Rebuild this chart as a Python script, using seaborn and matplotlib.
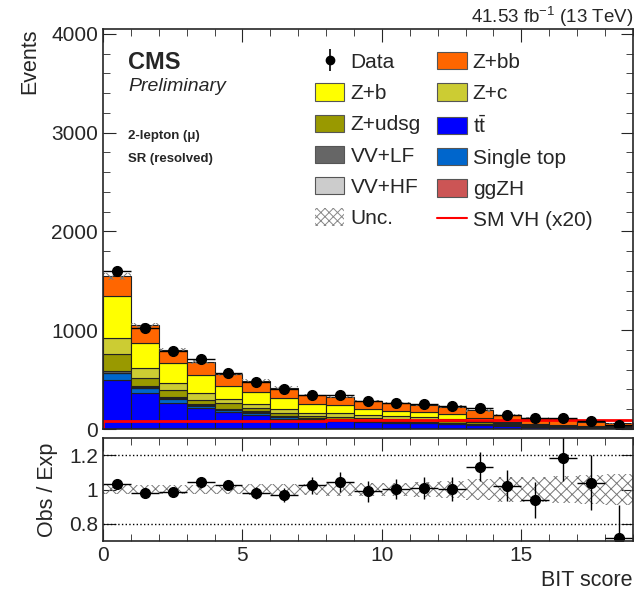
import numpy as np
import pandas as pd
import matplotlib
matplotlib.use("Agg")
import matplotlib.pyplot as plt
from matplotlib.patches import Patch
from matplotlib.lines import Line2D
from matplotlib.ticker import MultipleLocator
import seaborn as sns

# ---- data ----
edges = list(range(0, 20))          # 19 bins of BIT score, 0..19
centers = np.array(edges[:-1]) + 0.5

tt         = [500, 365, 268, 208, 168, 145, 105, 91, 80, 70, 63, 57, 48, 39, 31, 24, 21, 15, 12]
single_top = [62, 46, 35, 28, 24, 20, 15, 13, 11, 10, 9, 8, 7, 6, 5, 4, 3, 3, 2]
vv_hf      = [8, 7, 6, 6, 5, 5, 5, 4, 4, 4, 4, 3, 3, 3, 3, 2, 2, 2, 1]
vv_lf      = [14, 11, 9, 8, 7, 6, 5, 5, 4, 4, 4, 3, 3, 3, 2, 2, 2, 1, 1]
ggzh       = [2, 2, 2, 2, 2, 2, 2, 2, 2, 2, 2, 2, 2, 2, 1, 1, 1, 1, 1]
z_udsg     = [172, 81, 77, 38, 60, 31, 26, 16, 17, 22, 22, 23, 19, 15, 8, 5, 3, 2, 1]
z_c        = [168, 101, 64, 70, 34, 43, 41, 34, 40, 29, 26, 24, 23, 17, 10, 7, 6, 5, 4]
z_b        = [421, 259, 209, 182, 138, 118, 111, 87, 84, 58, 55, 55, 43, 27, 12, 10, 7, 6, 5]
z_bb       = [198, 178, 130, 135, 117, 117, 108, 88, 85, 85, 77, 72, 79, 76, 66, 60, 53, 40, 30]

sm_vh_x20  = [80, 80, 82, 82, 84, 85, 86, 86, 88, 88, 90, 90, 90, 90, 90, 90, 90, 90, 90]
data       = [1596, 1027, 787, 705, 570, 476, 404, 348, 341, 281, 263, 249, 228, 213, 141, 108, 116, 78, 41]
ratio_err  = [0.01, 0.012, 0.015, 0.03, 0.03, 0.035, 0.04, 0.05, 0.06, 0.06, 0.06, 0.065, 0.07,
              0.083, 0.09, 0.105, 0.135, 0.16, 0.19]
rel_unc    = [0.025, 0.025, 0.025, 0.025, 0.028, 0.03, 0.03, 0.03, 0.035, 0.04, 0.04, 0.045, 0.05,
              0.06, 0.07, 0.075, 0.08, 0.085, 0.09]

# top of the stack first (seaborn puts the first hue level on top)
processes = {
    "Z+bb": (z_bb, "#ff6600"),
    "Z+b": (z_b, "#ffff00"),
    "Z+c": (z_c, "#cccc33"),
    "Z+udsg": (z_udsg, "#999900"),
    "ggZH": (ggzh, "#cc5555"),
    "VV+LF": (vv_lf, "#666666"),
    "VV+HF": (vv_hf, "#cccccc"),
    "Single top": (single_top, "#0066cc"),
    "ttbar": (tt, "#0000ff"),
}

rows = []
for name, (vals, _) in processes.items():
    for c, v in zip(centers, vals):
        rows.append({"score": float(c), "events": float(v), "process": name})
df = pd.DataFrame(rows)
palette = {k: v[1] for k, v in processes.items()}

total = np.sum([np.array(v[0]) for v in processes.values()], axis=0)
data = np.array(data)
ratio = data / total
rel_unc = np.array(rel_unc)

# ---- style ----
sns.set_style("ticks")
plt.rcParams["font.family"] = ["Liberation Sans", "DejaVu Sans"]
plt.rcParams["hatch.linewidth"] = 0.7
plt.rcParams["mathtext.fontset"] = "custom"
plt.rcParams["mathtext.rm"] = "Liberation Sans"

fig = plt.figure(figsize=(6.42, 5.99), dpi=100)
ax = fig.add_axes([0.1604, 0.2838, 0.8255, 0.6678])
axr = fig.add_axes([0.1604, 0.0968, 0.8255, 0.172])

# stacked backgrounds
sns.histplot(data=df, x="score", weights="events", hue="process", hue_order=list(processes),
             multiple="stack", bins=edges, palette=palette, element="bars", alpha=1,
             edgecolor="#222222", linewidth=0.8, legend=False, ax=ax)

# stat+syst uncertainty on the stack
ax.bar(centers, 2 * rel_unc * total, bottom=total * (1 - rel_unc), width=1.0,
       fill=False, hatch="xxx", edgecolor="#777777", linewidth=0)

# signal x20
ax.stairs(sm_vh_x20, edges, color="red", linewidth=2)

# data
ax.errorbar(centers, data, yerr=np.array(ratio_err) * total, xerr=0.5, fmt="o", color="black",
            markersize=7, elinewidth=1, capsize=0)

ax.set_xlim(0, 19)
ax.set_ylim(0, 4050)
ax.set_xlabel("")
ax.set_ylabel("Events", fontsize=15.5, loc="top", labelpad=8)
ax.xaxis.set_major_locator(MultipleLocator(5))
ax.xaxis.set_minor_locator(MultipleLocator(1))
ax.yaxis.set_major_locator(MultipleLocator(1000))
ax.yaxis.set_minor_locator(MultipleLocator(200))
ax.tick_params(which="both", direction="in", top=True, right=True, labelbottom=False, labelsize=15)
ax.tick_params(which="major", length=9)
ax.tick_params(which="minor", length=5)
for s in ax.spines.values():
    s.set_linewidth(1.2)

# ---- ratio panel ----
axr.bar(centers, 2 * rel_unc, bottom=1 - rel_unc, width=1.0, fill=False, hatch="xxx",
        edgecolor="#777777", linewidth=0)
axr.errorbar(centers, ratio, yerr=ratio_err, xerr=0.5, fmt="o", color="black",
             markersize=7, elinewidth=1, capsize=0)
axr.axhline(1.2, color="black", linestyle=":", linewidth=1)
axr.axhline(0.8, color="black", linestyle=":", linewidth=1)
axr.set_xlim(0, 19)
axr.set_ylim(0.7, 1.3)
axr.set_yticks([0.8, 1.0, 1.2])
axr.set_yticklabels(["0.8", "1", "1.2"])
axr.xaxis.set_major_locator(MultipleLocator(5))
axr.xaxis.set_minor_locator(MultipleLocator(1))
axr.tick_params(which="both", direction="in", top=True, right=True, labelsize=15)
axr.tick_params(which="major", length=9)
axr.tick_params(which="minor", length=5)
axr.set_ylabel("Obs / Exp", fontsize=15.5, labelpad=8)
axr.set_xlabel("BIT score", fontsize=15.5, loc="right")
for s in axr.spines.values():
    s.set_linewidth(1.2)
fig.align_ylabels([ax, axr])

# ---- legend ----
def box(name):
    return Patch(facecolor=palette[name], edgecolor="#555555", linewidth=0.8)

h_data = (Line2D([], [], marker="|", color="black", markersize=16, markeredgewidth=1.2, linestyle="none"),
          Line2D([], [], marker="o", color="black", markersize=6, linestyle="none"))
handles = [
    h_data, box("Z+b"), box("Z+udsg"), box("VV+LF"), box("VV+HF"),
    Patch(facecolor="white", edgecolor="#888888", hatch="xxxx", linewidth=0),
    box("Z+bb"), box("Z+c"), box("ttbar"), box("Single top"), box("ggZH"),
    Line2D([], [], color="red", linewidth=1.5),
]
labels = ["Data", "Z+b", "Z+udsg", "VV+LF", "VV+HF", "Unc.",
          "Z+bb", "Z+c", r"$\mathrm{t\bar{t}}$", "Single top", "ggZH", "SM VH (x20)"]
fig.legend(handles, labels, ncol=2, loc="upper left", bbox_to_anchor=(315 / 642, 1 - 52 / 599),
           frameon=False, fontsize=15, handlelength=1.4, handleheight=0.9, handletextpad=0.3,
           labelspacing=0.55, columnspacing=0.8, borderpad=0, borderaxespad=0)

# ---- text ----
fig.text(128 / 642, 1 - 51 / 599, "CMS", fontsize=17, fontweight="bold", va="top")
fig.text(128 / 642, 1 - 78 / 599, "Preliminary", fontsize=14, style="italic", va="top")
fig.text(128 / 642, 1 - 130 / 599, "2-lepton (\u03bc)", fontsize=9.5, fontweight="bold", va="top")
fig.text(128 / 642, 1 - 153 / 599, "SR (resolved)", fontsize=9.5, fontweight="bold", va="top")
fig.text(633 / 642, 1 - 23 / 599, r"41.53 fb$^{-1}$ (13 TeV)", fontsize=13.5, ha="right", va="baseline")

fig.savefig("out.png", dpi=100)
